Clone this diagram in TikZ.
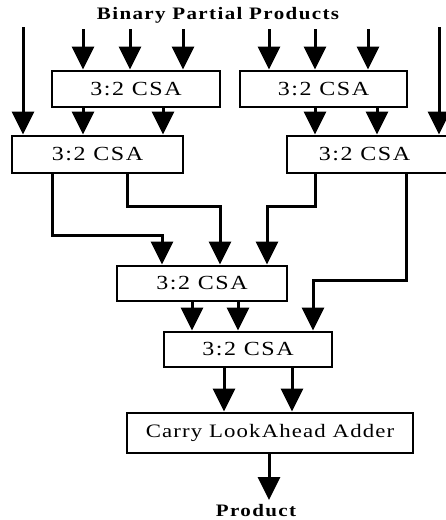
\documentclass[tikz,border=0pt]{standalone}
\usepackage{fontspec}
\setmainfont{Liberation Serif}[FakeStretch=1.2,LetterSpace=8]
\usetikzlibrary{arrows.meta,calc}
\tikzset{
  csabox/.style={draw,line width=2.8pt,minimum height=36pt,inner sep=0pt,font=\fontsize{20}{22}\selectfont},
  arr/.style={line width=3pt,-{Triangle[width=22pt,length=23pt]}},
  lbl/.style={font=\fontsize{17.5}{20}\selectfont\bfseries,inner sep=0pt}
}
\begin{document}
\begin{tikzpicture}[x=1pt,y=-1pt]
\useasboundingbox (0,0) rectangle (446,520);
\node[lbl] (title) at (218,15) {Binary Partial Products};
\node[csabox,minimum width=168pt] (A) at (136,89) {3:2 CSA};
\node[csabox,minimum width=167pt] (B) at (323.5,89) {3:2 CSA};
\node[csabox,minimum width=171pt,minimum height=37pt] (C) at (97.5,154.5) {3:2 CSA};
\node[csabox,minimum width=161pt,minimum height=37pt] (D) at (367.5,154.5) {\hspace*{-6pt}3:2 CSA};
\node[csabox,minimum width=170pt,minimum height=35pt] (E) at (202,283.5) {3:2 CSA};
\node[csabox,minimum width=168pt,minimum height=35pt] (F) at (248,349.5) {3:2 CSA};
\node[csabox,minimum width=286pt,minimum height=40pt,font=\fontsize{19}{21}\selectfont\addfontfeature{LetterSpace=6}] (G) at (270,433) {Carry LookAhead Adder};
\node[lbl] (prod) at (256,511) {Product};
% input coordinates
\coordinate (i1) at (83,29);
\coordinate (i2) at (130,29);
\coordinate (i3) at (183,29);
\coordinate (i4) at (269,29);
\coordinate (i5) at (315,29);
\coordinate (i6) at (368,29);
\coordinate (il) at (23,27);
\coordinate (ir) at (439,27);
\foreach \c/\b in {i1/A,i2/A,i3/A,i4/B,i5/B,i6/B,il/C,ir/D}
  \draw[arr] (\c) -- (\c |- \b.north);
% A -> C, B -> D
\draw[arr] (A.south -| 83,0) -- (C.north -| 83,0);
\draw[arr] (A.south -| 163,0) -- (C.north -| 163,0);
\draw[arr] (B.south -| 315,0) -- (D.north -| 315,0);
\draw[arr] (B.south -| 377,0) -- (D.north -| 377,0);
% C,D -> E
\draw[arr] (C.south -| 52,0) |- (162,235) -- (E.north -| 162,0);
\draw[arr] (C.south -| 127,0) |- (220,206) -- (E.north -| 220,0);
\draw[arr] (D.south -| 315,0) |- (267,206) -- (E.north -| 267,0);
% D -> F
\draw[arr] (D.south -| 406,0) |- (313,280) -- (F.north -| 313,0);
% E -> F
\draw[arr] (E.south -| 192,0) -- (F.north -| 192,0);
\draw[arr] (E.south -| 238,0) -- (F.north -| 238,0);
% F -> G
\draw[arr] (F.south -| 224,0) -- (G.north -| 224,0);
\draw[arr] (F.south -| 292,0) -- (G.north -| 292,0);
% G -> product
\coordinate (pend) at (269,500);
\draw[arr] (G.south -| pend) -- (pend);
\end{tikzpicture}
\end{document}
